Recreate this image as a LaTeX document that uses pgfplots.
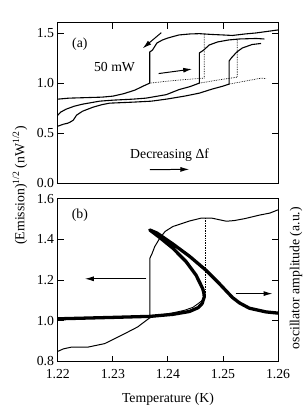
\documentclass[border=0pt]{standalone}
\usepackage{fontspec}
\setmainfont{Liberation Serif}
\usepackage{pgfplots}
\pgfplotsset{compat=1.18}
\usetikzlibrary{arrows.meta}
\tikzset{myarrow/.style={line width=1pt, -{Latex[length=9pt,width=5pt]}}}
\begin{document}
\fontsize{13.8}{16}\selectfont
\begin{tikzpicture}
\pgfplotsset{
  every axis/.append style={
    scale only axis, width=221pt,
    xmin=1.22, xmax=1.26,
    xtick={1.22,1.23,1.24,1.25,1.26},
    tick align=inside, major tick length=6pt,
    axis line style={line width=0.9pt}, tick style={line width=0.9pt, black},
    /pgf/number format/assume math mode=true,
    /pgf/number format/fixed, /pgf/number format/fixed zerofill,
    tick label style={font=\fontsize{13.8}{16}\selectfont},
    yticklabel style={xshift=1pt},
  },
}
% ---------- top panel (a) ----------
\begin{axis}[at={(0,178.7pt)}, anchor=south west, height=161pt,
  ymin=0, ymax=1.6, ytick={0,0.5,1.0,1.5},
  yticklabel style={/pgf/number format/precision=1},
  xtick pos=upper, xticklabels={}, ]
\addplot[black, line width=1.1pt] coordinates {
(1.2200,0.84)(1.2220,0.85)(1.2250,0.855)(1.2280,0.86)(1.2300,0.87)(1.2320,0.895)
(1.2340,0.93)(1.2355,0.97)(1.2367,1.00)(1.2367,1.31)(1.2372,1.33)(1.2380,1.40)
(1.2390,1.43)(1.2400,1.45)(1.2420,1.48)(1.2440,1.49)(1.2457,1.493)(1.2480,1.485)
(1.2500,1.48)(1.2517,1.475)(1.2540,1.49)(1.2560,1.50)(1.2580,1.515)(1.2600,1.53)};
\addplot[black, densely dotted, line width=0.7pt] coordinates {
(1.2367,1.00)(1.2400,1.02)(1.2430,1.035)(1.2466,1.05)(1.2466,1.49)};
\addplot[black, line width=1.1pt] coordinates {
(1.2200,0.68)(1.2205,0.71)(1.2215,0.74)(1.2230,0.77)(1.2245,0.79)(1.2276,0.82)
(1.2300,0.83)(1.2336,0.84)(1.2360,0.85)(1.2397,0.885)(1.2420,0.935)(1.2440,0.965)
(1.2457,1.00)(1.2457,1.30)(1.2465,1.33)(1.2475,1.38)(1.2490,1.41)(1.2510,1.43)
(1.2530,1.44)(1.2560,1.445)(1.2575,1.44)};
\addplot[black, densely dotted, line width=0.7pt] coordinates {
(1.2457,1.00)(1.2490,1.03)(1.2526,1.06)(1.2526,1.44)};
\addplot[black, line width=1.1pt] coordinates {
(1.2200,0.57)(1.2210,0.59)(1.2218,0.60)(1.2222,0.61)(1.2228,0.63)(1.2234,0.68)
(1.2245,0.72)(1.2264,0.76)(1.2280,0.785)(1.2294,0.80)(1.2336,0.81)(1.2370,0.82)
(1.2397,0.84)(1.2430,0.87)(1.2457,0.90)(1.2480,0.94)(1.2500,0.97)(1.2511,0.99)
(1.2511,1.22)(1.2515,1.25)(1.2525,1.31)(1.2535,1.35)(1.2553,1.385)(1.2569,1.395)};
\addplot[black, densely dotted, line width=0.7pt] coordinates {
(1.2511,0.99)(1.2540,1.02)(1.2570,1.05)(1.2578,1.045)};
\node at (axis cs:1.224,1.385) {(a)};
\node at (axis cs:1.2303,1.16) {50 mW};
\node at (axis cs:1.2403,0.284) {Decreasing \symbol{"0394}f};
\draw[myarrow] (axis cs:1.2383,1.095) -- (axis cs:1.2444,1.14);
\draw[myarrow] (axis cs:1.2388,1.503) -- (axis cs:1.2354,1.346);
\draw[myarrow] (axis cs:1.2367,0.137) -- (axis cs:1.2439,0.14);
\end{axis}
% ---------- bottom panel (b) ----------
\begin{axis}[at={(0,0)}, anchor=south west, height=163.2pt,
  ymin=0.8, ymax=1.6, ytick={0.8,1.0,1.2,1.4,1.6},
  yticklabel style={/pgf/number format/precision=1},
  xticklabel style={/pgf/number format/precision=2, yshift=-3pt},
  xtick pos=lower,
  xlabel={Temperature (K)}, xlabel style={yshift=-5pt}]
% oscillator amplitude (thick)
\addplot[black, line width=3.3pt, line join=round] coordinates {
(1.2200,1.010)(1.2300,1.017)(1.2367,1.022)(1.2409,1.032)(1.2439,1.046)(1.2455,1.065)
(1.2462,1.085)(1.2466,1.118)(1.2465,1.140)(1.2463,1.159)(1.2451,1.225)(1.2433,1.291)
(1.2409,1.357)(1.2385,1.41)(1.2367,1.447)(1.2380,1.432)(1.2409,1.378)(1.2439,1.318)
(1.2469,1.249)(1.2493,1.184)(1.2517,1.115)(1.2530,1.088)(1.2548,1.062)(1.2578,1.044)(1.2600,1.038)};
% emission (thin)
\addplot[black, line width=1pt] coordinates {
(1.2200,0.850)(1.2210,0.862)(1.2225,0.871)(1.2255,0.871)(1.2285,0.888)(1.2315,0.928)
(1.2345,0.970)(1.2367,1.015)(1.2367,1.307)(1.2371,1.33)(1.2376,1.365)(1.2385,1.406)
(1.2395,1.44)(1.2409,1.464)(1.2439,1.491)(1.2460,1.505)(1.2480,1.505)(1.2506,1.49)
(1.2520,1.493)(1.2540,1.503)(1.2566,1.52)(1.2585,1.53)(1.2600,1.546)};
\addplot[black, line width=0.9pt] coordinates {
(1.2367,1.015)(1.2390,1.030)(1.2410,1.040)(1.2430,1.052)(1.2445,1.066)(1.2455,1.085)
(1.2462,1.10)(1.2467,1.12)};
\addplot[black, densely dotted, line width=0.7pt] coordinates {
(1.2468,1.12)(1.2468,1.505)};
\node at (axis cs:1.224,1.518) {(b)};
\draw[myarrow] (axis cs:1.2361,1.207) -- (axis cs:1.2249,1.207);
\draw[myarrow] (axis cs:1.2523,1.134) -- (axis cs:1.2590,1.134);
\end{axis}
\node[rotate=90] at (-38pt,176.7pt) {(Emission)\textsuperscript{1/2} (nW\textsuperscript{1/2})};
\node[rotate=90] at (239pt,83.7pt) {oscillator amplitude (a.u.)};
\path[use as bounding box] (-58pt,-47.3pt) rectangle (251pt,362.7pt);
\end{tikzpicture}
\end{document}
